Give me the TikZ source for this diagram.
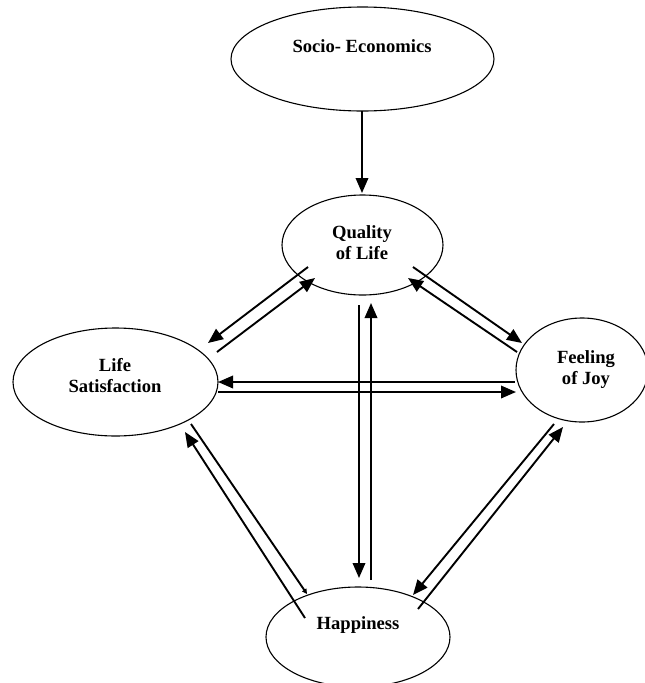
\documentclass[tikz,border=0pt]{standalone}
\usepackage{fontspec}
\setmainfont{Liberation Serif}
\usetikzlibrary{arrows.meta,shapes.geometric}
\begin{document}
\begin{tikzpicture}[x=1pt,y=-1pt,
  oval/.style={draw, ellipse, line width=1.1pt, inner sep=0pt},
  lbl/.style={font=\fontsize{18.6}{21}\selectfont\bfseries, align=center, inner sep=0pt},
  conn/.style={line width=1.9pt, -{Triangle[length=15pt,width=12.5pt]}},
  tinyconn/.style={line width=1.9pt, -{Triangle[length=5pt,width=5pt]}}]
\useasboundingbox (0,0) rectangle (645,683);
% ellipses
\node[oval, minimum width=263pt, minimum height=104pt] (soc) at (362.5,59) {};
\node[oval, minimum width=161pt, minimum height=100pt] (qol) at (362.5,245) {};
\node[oval, minimum width=205pt, minimum height=108pt] (ls) at (115.5,382) {};
\node[oval, minimum width=132pt, minimum height=104pt] (foj) at (582,370) {};
\node[oval, minimum width=184pt, minimum height=100pt] (hap) at (358,637) {};
% labels
\node[lbl] (soc-t) at (362,46) {Socio- Economics};
\node[lbl] (qol-t) at (362,243) {Quality\\of Life};
\node[lbl] (ls-t) at (115,376) {Life\\Satisfaction};
\node[lbl] (foj-t) at (586,370) {Feeling\\of Joy};
\node[lbl] (hap-t) at (358,625) {Happiness};
% connector end points
\coordinate (soc-b) at (362,111);
\coordinate (qol-a) at (362,193);
\coordinate (q1) at (308,267); \coordinate (l1) at (208,343);
\coordinate (l2) at (217,352); \coordinate (q2) at (315,278);
\coordinate (q3) at (413,267); \coordinate (f3) at (522,343);
\coordinate (f4) at (517,352); \coordinate (q4) at (408,278);
\coordinate (f5) at (515,382); \coordinate (l5) at (218,382);
\coordinate (l6) at (218,392); \coordinate (f6) at (516,392);
\coordinate (q7) at (359,305); \coordinate (h7) at (359,578);
\coordinate (h8) at (371,580); \coordinate (q8) at (371,303);
\coordinate (h9) at (305,618); \coordinate (l9) at (185,432);
\coordinate (l10) at (191,424); \coordinate (h10) at (307,594);
\coordinate (f11) at (554,424); \coordinate (h11) at (413,595);
\coordinate (h12) at (418,609); \coordinate (f12) at (563,427);
% connectors
\draw[conn] (soc-b) -- (qol-a);
\draw[conn] (q1) -- (l1);
\draw[conn] (l2) -- (q2);
\draw[conn] (q3) -- (f3);
\draw[conn] (f4) -- (q4);
\draw[conn] (f5) -- (l5);
\draw[conn] (l6) -- (f6);
\draw[conn] (q7) -- (h7);
\draw[conn] (h8) -- (q8);
\draw[conn] (h9) -- (l9);
\draw[tinyconn] (l10) -- (h10);
\draw[conn] (f11) -- (h11);
\draw[conn] (h12) -- (f12);
\end{tikzpicture}
\end{document}
